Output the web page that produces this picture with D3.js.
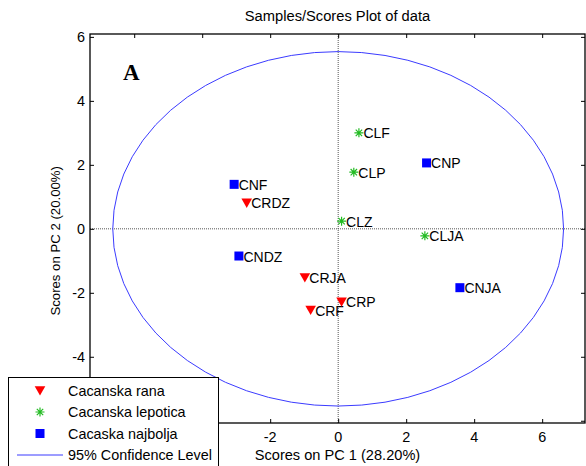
<!DOCTYPE html>
<html lang="en">
<head>
<meta charset="utf-8">
<title>Samples/Scores Plot of data</title>
<script src="https://cdn.jsdelivr.net/npm/d3@7"></script>
<style>
body { margin: 0; background: #fff; }
text { font-family: "Liberation Sans", Arial, sans-serif; }
</style>
</head>
<body>
<script>
// data
var groups = ["Cacanska rana", "Cacanska lepotica", "Cacaska najbolja"];
var names  = ["CRDZ", "CRJA", "CRF", "CRP", "CLF", "CLP", "CLZ", "CLJA", "CNF", "CNDZ", "CNP", "CNJA"];
var group  = [0, 0, 0, 0, 1, 1, 1, 1, 2, 2, 2, 2];
var pc1    = [-2.69, -0.98, -0.81, 0.10, 0.61, 0.46, 0.10, 2.55, -3.06, -2.92, 2.60, 3.58];
var pc2    = [0.81, -1.52, -2.54, -2.28, 3.00, 1.77, 0.24, -0.22, 1.39, -0.85, 2.06, -1.84];
var ellipseRadii = [6.63, 5.54];   // 95% confidence level
var xTicks = [-6, -4, -2, 0, 2, 4, 6];
var yTicks = [-6, -4, -2, 0, 2, 4, 6];
// labels not hidden behind the legend
var xLabels = [-2, 0, 2, 4, 6];
var yLabels = [-4, -2, 0, 2, 4, 6];

var width = 586, height = 466;
var pL = 90, pR = 585, pT = 34, pB = 423;

var svg = d3.select("body").append("svg")
    .attr("width", width)
    .attr("height", height);

var x = d3.scaleLinear().domain([-7.3, 7.26]).range([pL, pR]);
var y = d3.scaleLinear().domain([-6.07, 6.09]).range([pB, pT]);

svg.append("defs").append("clipPath").attr("id", "clip")
    .append("rect").attr("x", pL).attr("y", pT)
    .attr("width", pR - pL).attr("height", pB - pT);

//十字线
svg.append("line")
    .attr("x1", x(0)).attr("x2", x(0)).attr("y1", pT).attr("y2", pB)
    .attr("stroke", "#555").attr("stroke-width", 1).attr("stroke-dasharray", "1,1");
svg.append("line")
    .attr("x1", pL).attr("x2", pR).attr("y1", y(0)).attr("y2", y(0))
    .attr("stroke", "#555").attr("stroke-width", 1).attr("stroke-dasharray", "1,1");

//置信椭圆
var angles = d3.range(0, 361, 6);
var ellipse = d3.line()
    .x(function(a) { return x(ellipseRadii[0] * Math.cos(a * Math.PI / 180)); })
    .y(function(a) { return y(ellipseRadii[1] * Math.sin(a * Math.PI / 180)); });
svg.append("path")
    .attr("d", ellipse(angles))
    .attr("clip-path", "url(#clip)")
    .attr("fill", "none")
    .attr("stroke", "#3b3bff")
    .attr("stroke-width", 1);

//坐标轴 (ticks inside, all four sides)
var tl = 4;
svg.append("g").attr("transform", "translate(0," + pB + ")")
    .call(d3.axisBottom(x).tickValues(xTicks).tickSize(-tl).tickFormat(""))
    .call(function(g) { g.select(".domain").remove(); });
svg.append("g").attr("transform", "translate(0," + pT + ")")
    .call(d3.axisTop(x).tickValues(xTicks).tickSize(-tl).tickFormat(""))
    .call(function(g) { g.select(".domain").remove(); });
svg.append("g").attr("transform", "translate(" + pL + ",0)")
    .call(d3.axisLeft(y).tickValues(yTicks).tickSize(-tl).tickFormat(""))
    .call(function(g) { g.select(".domain").remove(); });
svg.append("g").attr("transform", "translate(" + pR + ",0)")
    .call(d3.axisRight(y).tickValues(yTicks).tickSize(-tl).tickFormat(""))
    .call(function(g) { g.select(".domain").remove(); });

svg.append("rect")
    .attr("x", pL).attr("y", pT)
    .attr("width", pR - pL).attr("height", pB - pT)
    .attr("fill", "none").attr("stroke", "#000").attr("stroke-width", 1.3);

//刻度标签
svg.selectAll(".xl").data(xLabels).enter().append("text")
    .attr("x", function(d) { return x(d); })
    .attr("y", 442)
    .attr("text-anchor", "middle")
    .attr("font-size", 14.4)
    .text(function(d) { return d; });
svg.selectAll(".yl").data(yLabels).enter().append("text")
    .attr("x", 85)
    .attr("y", function(d) { return y(d) + 5; })
    .attr("text-anchor", "end")
    .attr("font-size", 14.4)
    .text(function(d) { return d; });

svg.append("text").attr("x", (pL + pR) / 2).attr("y", 460)
    .attr("text-anchor", "middle").attr("font-size", 14.6)
    .text("Scores on PC 1 (28.20%)");
svg.append("text")
    .attr("transform", "translate(60," + (y(0) + 12) + ") rotate(-90)")
    .attr("text-anchor", "middle").attr("font-size", 13.2)
    .text("Scores on PC 2 (20.00%)");
svg.append("text").attr("x", (pL + pR) / 2).attr("y", 21)
    .attr("text-anchor", "middle").attr("font-size", 14.7)
    .text("Samples/Scores Plot of data");
svg.append("text").attr("x", 123).attr("y", 80)
    .style("font-family", "'Liberation Serif', 'Times New Roman', serif")
    .attr("font-weight", "bold").attr("font-size", 23)
    .text("A");

//标记
var colors = ["#ff0000", "#22bb22", "#0000ff"];
function drawMarker(g, k) {
    if (k === 0) {
        g.append("path").attr("d", "M-5.3,-4.3L5.3,-4.3L0,5Z").attr("fill", colors[0]);
    } else if (k === 1) {
        g.append("path")
            .attr("d", "M-4.5,0H4.5M0,-4.5V4.5M-3.2,-3.2L3.2,3.2M-3.2,3.2L3.2,-3.2")
            .attr("stroke", colors[1]).attr("stroke-width", 1.2).attr("fill", "none");
    } else {
        g.append("rect").attr("x", -4.5).attr("y", -4.5).attr("width", 9).attr("height", 9)
            .attr("fill", colors[2]);
    }
}

var pts = svg.selectAll(".pt").data(d3.range(names.length)).enter().append("g")
    .attr("transform", function(i) { return "translate(" + x(pc1[i]) + "," + y(pc2[i]) + ")"; });
pts.each(function(i) { drawMarker(d3.select(this), group[i]); });
pts.append("text")
    .attr("x", 4.5).attr("y", 5.5)
    .attr("font-size", 14)
    .text(function(i) { return names[i]; });

//图例
var legend = svg.append("g");
legend.append("rect")
    .attr("x", 8.5).attr("y", 377.5).attr("width", 210).attr("height", 100)
    .attr("fill", "#fff").attr("stroke", "#000").attr("stroke-width", 1);
var rowY = [390.5, 412, 433.5, 455];
groups.forEach(function(gname, k) {
    var g = legend.append("g").attr("transform", "translate(40," + rowY[k] + ")");
    drawMarker(g, k);
    legend.append("text").attr("x", 68).attr("y", rowY[k] + 5)
        .attr("font-size", 14.4).text(gname);
});
legend.append("line").attr("x1", 17).attr("x2", 63).attr("y1", rowY[3]).attr("y2", rowY[3])
    .attr("stroke", "#3b3bff").attr("stroke-width", 1);
legend.append("text").attr("x", 68).attr("y", rowY[3] + 5)
    .attr("font-size", 14.4).text("95% Confidence Level");
</script>
</body>
</html>
